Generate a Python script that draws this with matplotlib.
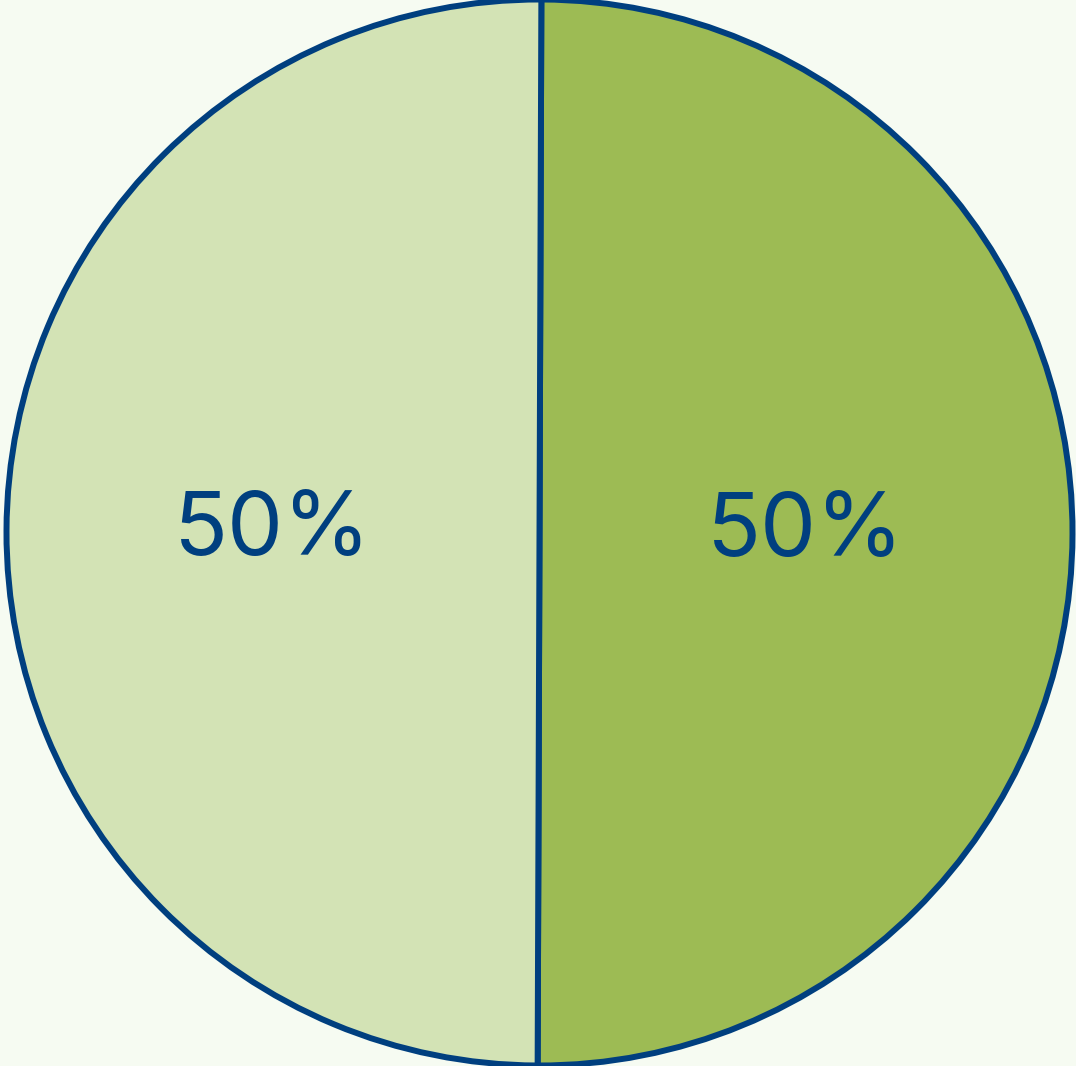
import matplotlib.pyplot as plt

# Slice data
labels = ["A", "B"]
values = [50, 50]
colors = ["#9dbb54", "#d3e3b5"]

edge_color = "#003f7f"
bg_color = "#f6fbf2"

W, H = 1076, 1066
fig = plt.figure(figsize=(W / 100, H / 100), dpi=100)
fig.patch.set_facecolor(bg_color)

# circle centre / radius in pixels
cx, cy, r = 539.5, H - 532.5, 533
ax = fig.add_axes([(cx - r) / W, (cy - r) / H, 2 * r / W, 2 * r / H])
ax.set_facecolor(bg_color)

wedges, texts, autotexts = ax.pie(
    values,
    colors=colors,
    startangle=89.8,
    counterclock=False,
    autopct="%1.0f%%",
    pctdistance=0.5,
    wedgeprops=dict(edgecolor=edge_color, linewidth=4.3),
    textprops=dict(color=edge_color, fontsize=64, family="Inter"),
)
for t in autotexts:
    t.set_fontweight("normal")

ax.set_xlim(-1, 1)
ax.set_ylim(-1, 1)
ax.axis("off")

fig.savefig("out.png", dpi=100, facecolor=bg_color)
